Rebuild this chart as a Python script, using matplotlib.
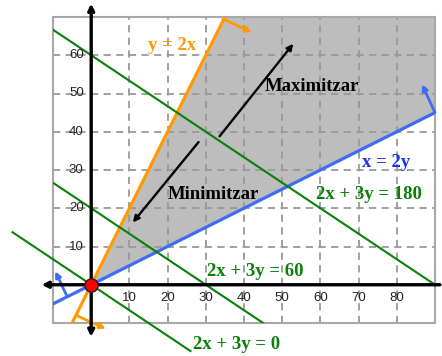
import numpy as np
import matplotlib
matplotlib.use("Agg")
import matplotlib.pyplot as plt

# ---- data ----
x_ticks = [10, 20, 30, 40, 50, 60, 70, 80]
y_ticks = [10, 20, 30, 40, 50, 60]
x_lim = (-10, 90)
y_lim = (-10, 70)
# constraint lines: y = 2x  and  x = 2y
slope_upper = 2.0
slope_lower = 0.5
# objective 2x + 3y = k
obj_a, obj_b = 2, 3
levels = [0, 60, 180]
level_labels = ['2x + 3y = 0', '2x + 3y = 60', '2x + 3y = 180']
zero_line_x = (-20.6, 26.0)   # extent of the 2x+3y=0 line (runs past the box)
max_arrow = [(33.6, 38.8), (52.9, 63.0)]
min_arrow = [(28.1, 37.3), (10.9, 16.3)]
orange_normals = [[(-4.0, -8.0), (3.8, -11.5)], [(34.5, 69.5), (42.0, 66.0)]]
blue_normals = [[(-6.3, -3.1), (-9.4, 3.5)], [(90.0, 45.0), (86.6, 52.4)]]

ORANGE = '#ff9a00'
BLUE = '#3f6cf5'
GREEN = '#0a800a'
GRAY_FILL = '#bdbdbd'

fig = plt.figure(figsize=(4.42, 3.56), dpi=100)
ax = fig.add_axes([53/442, 33/356, 382/442, 306/356])
ax.set_xlim(*x_lim)
ax.set_ylim(*y_lim)

# feasible region
xs = np.linspace(0, x_lim[1], 400)
ax.fill_between(xs, slope_lower * xs, np.minimum(slope_upper * xs, y_lim[1]),
                color=GRAY_FILL, lw=0, zorder=1)

# grid
ax.set_xticks(x_ticks)
ax.set_yticks(y_ticks)
ax.tick_params(length=0, labelbottom=False, labelleft=False)
ax.set_axisbelow('line')
ax.grid(color='#999999', linestyle=(0, (4, 3)), linewidth=1.3)
for s in ax.spines.values():
    s.set_color('#a8a8a8')
    s.set_linewidth(1.5)

# tick labels
for t in x_ticks:
    ax.text(t, -3.4, str(t), ha='center', va='center', fontsize=9.5,
            family='Liberation Sans', color='#222222', zorder=6)
for t in y_ticks:
    ax.text(-3.9, t, str(t), ha='center', va='center', fontsize=9.5,
            family='Liberation Sans', color='#222222', zorder=6)

# axes with arrows
ax.annotate('', xy=(0, 73.5), xytext=(0, -13.6), annotation_clip=False,
            arrowprops=dict(arrowstyle='<|-|>', color='black', lw=2.4,
                            mutation_scale=9, shrinkA=0, shrinkB=0), zorder=4)
ax.annotate('', xy=(-13.0, 0), xytext=(91.3, 0), annotation_clip=False,
            arrowprops=dict(arrowstyle='-|>', color='black', lw=2.4,
                            mutation_scale=9, shrinkA=0, shrinkB=0), zorder=4)

# constraint lines
xl = np.array(x_lim, dtype=float)
ax.plot(xl, slope_upper * xl, color=ORANGE, lw=2.3, zorder=3)
ax.plot(xl, slope_lower * xl, color=BLUE, lw=2.3, zorder=3)

# objective lines
for k in levels:
    if k == 0:
        xx = np.array(zero_line_x)
        ax.plot(xx, (k - obj_a * xx) / obj_b, color=GREEN, lw=1.5,
                zorder=3, clip_on=False)
    else:
        xx = np.array(x_lim, dtype=float)
        ax.plot(xx, (k - obj_a * xx) / obj_b, color=GREEN, lw=1.5, zorder=3)

# normal arrows
for (p0, p1) in orange_normals:
    ax.annotate('', xy=p1, xytext=p0, annotation_clip=False,
                arrowprops=dict(arrowstyle='-|>', color=ORANGE, lw=2,
                                mutation_scale=8, shrinkA=0, shrinkB=0), zorder=3)
for (p0, p1) in blue_normals:
    ax.annotate('', xy=p1, xytext=p0, annotation_clip=False,
                arrowprops=dict(arrowstyle='-|>', color=BLUE, lw=2,
                                mutation_scale=8, shrinkA=0, shrinkB=0), zorder=3)

# max / min arrows
for (p0, p1) in (max_arrow, min_arrow):
    ax.annotate('', xy=p1, xytext=p0,
                arrowprops=dict(arrowstyle='-|>', color='black', lw=1.7,
                                mutation_scale=9, shrinkA=0, shrinkB=0), zorder=5)

# origin point
ax.plot([0], [0], 'o', ms=9.5, mfc='#ff0000', mec='#222222', mew=1, zorder=7, clip_on=False)

# labels
serif = dict(family='Liberation Serif', fontweight='bold', fontsize=13.5)
ax.text(21.2, 62.5, 'y = 2x', color=ORANGE, ha='center', va='center', **serif)
ax.text(57.8, 51.7, 'Maximitzar', color='black', ha='center', va='center', **serif)
ax.text(31.9, 23.6, 'Minimitzar', color='black', ha='center', va='center', **serif)
ax.text(77.2, 32.0, 'x = 2y', color='#1a33ee', ha='center', va='center', **serif)
ax.text(72.8, 23.6, level_labels[2], color=GREEN, ha='center', va='center', **serif)
ax.text(43.0, 3.4, level_labels[1], color=GREEN, ha='center', va='center', **serif)
ax.text(38.0, -15.7, level_labels[0], color=GREEN, ha='center', va='center',
        clip_on=False, **serif)

fig.savefig('out.png', dpi=100)
